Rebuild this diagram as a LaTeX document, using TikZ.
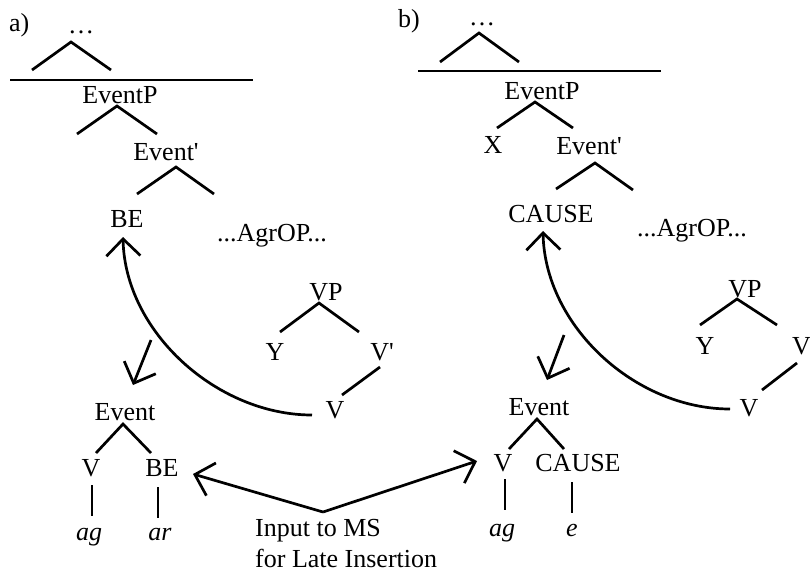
\documentclass[tikz,border=0pt]{standalone}
\usepackage{fontspec}
\setmainfont{Liberation Serif}[Ligatures=TeXOff]
\usetikzlibrary{calc,arrows.meta}
\begin{document}
\begin{tikzpicture}[x=1pt,y=-1pt,
  lbl/.style={inner sep=0pt, anchor=base, font=\fontsize{26}{30}\selectfont},
  lblw/.style={lbl, anchor=base west},
  ln/.style={line width=2.7pt},
  arr/.style={ln, -{Straight Barb[length=17pt,width=34pt]}}]
\fill[white] (0,0) rectangle (810,573);
\useasboundingbox (0,0) rectangle (810,573);

% ---------- panel a ----------
\node[lblw] (lblA) at (9,31) {a)};
\node[lbl] (dotsA) at (81,33) {…};
\node[lbl] (EPa) at (120,103) {EventP};
\node[lbl] (E1a) at (166,160) {Event'};
\node[lbl] (BEa) at (127,227) {BE};
\node[lbl] (AgrA) at (272,241) {...AgrOP...};
\node[lbl] (VPa) at (326,300) {VP};
\node[lbl] (Ya) at (275,360) {Y};
\node[lbl] (V1a) at (382,360) {V'};
\node[lbl] (Vla) at (335,418) {V};
\node[lbl] (Eva) at (125,420) {Event};
\node[lbl] (Vba) at (91,476) {V};
\node[lbl] (BEba) at (162,476) {BE};
\node[lbl] (aga) at (89,540) {\textit{ag}};
\node[lbl] (ara) at (160,540) {\textit{ar}};
\node[lblw] (in1) at (255,536) {Input to MS};
\node[lblw] (in2) at (255,567) {for Late Insertion};

\draw[ln] (10,80) -- (253,80);
\draw[ln] ($(dotsA.base)+(-49,37)$) -- ($(dotsA.base)+(-10,9)$) -- ($(dotsA.base)+(30,37)$);
\draw[ln] ($(EPa.base)+(-43,31)$) -- ($(EPa.base)+(-3,3)$) -- ($(EPa.base)+(37,31)$);
\draw[ln] ($(E1a.base)+(-29,34)$) -- ($(E1a.base)+(10,7)$) -- ($(E1a.base)+(48,34)$);
\draw[ln] ($(VPa.base)+(-46,32)$) -- ($(VPa.base)+(-7,3)$) -- ($(VPa.base)+(33,32)$);
\draw[ln] ($(V1a.base)+(-2,7)$) -- ($(Vla.base)+(7,-23)$);
\draw[arr] ($(Vla.base)+(-23,-3)$) .. controls ($(Vla.base)+(-118,-3)$) and ($(BEa.base)+(-2,105)$) .. ($(BEa.base)+(-4,10)$);
\draw[arr] ($(Eva.base)+(26,-80)$) -- ($(Eva.base)+(8,-35)$);
\draw[ln] ($(Eva.base)+(-29,33)$) -- ($(Eva.base)+(-2,4)$) -- ($(Eva.base)+(26,33)$);
\draw[ln] ($(Vba.base)+(1,9)$) -- ($(aga.base)+(3,-24)$);
\draw[ln] ($(BEba.base)+(-4,11)$) -- ($(ara.base)+(-2,-22)$);
\draw[arr] ($(in1.base west)+(68,-24)$) -- ($(BEba.base)+(31,-2)$);

% ---------- panel b ----------
\node[lblw] (lblB) at (398,27) {b)};
\node[lbl] (dotsB) at (482,25) {…};
\node[lbl] (EPb) at (542,99) {EventP};
\node[lbl] (Xb) at (493,153) {X};
\node[lbl] (E1b) at (589,154) {Event'};
\node[lbl] (CAb) at (551,222) {CAUSE};
\node[lbl] (AgrB) at (692,236) {...AgrOP...};
\node[lbl] (VPb) at (745,297) {VP};
\node[lbl] (Yb) at (705,354) {Y};
\node[lblw] (V1b) at (792,354) {V};
\node[lbl] (Vlb) at (749,416) {V};
\node[lbl] (Evb) at (539,415) {Event};
\node[lbl] (Vbb) at (503,471) {V};
\node[lbl] (CAbb) at (578,471) {CAUSE};
\node[lbl] (agb) at (502,536) {\textit{ag}};
\node[lbl] (eb) at (572,536) {\textit{e}};

\draw[ln] (418,71) -- (661,71);
\draw[ln] ($(dotsB.base)+(-42,37)$) -- ($(dotsB.base)+(-3,8)$) -- ($(dotsB.base)+(37,37)$);
\draw[ln] ($(EPb.base)+(-45,29)$) -- ($(EPb.base)+(-7,3)$) -- ($(EPb.base)+(31,29)$);
\draw[ln] ($(E1b.base)+(-33,35)$) -- ($(E1b.base)+(6,9)$) -- ($(E1b.base)+(44,36)$);
\draw[ln] ($(VPb.base)+(-45,28)$) -- ($(VPb.base)+(-8,2)$) -- ($(VPb.base)+(32,28)$);
\draw[ln] ($(V1b.base west)+(5,9)$) -- ($(Vlb.base)+(13,-26)$);
\draw[arr] ($(Vlb.base)+(-19,-7)$) .. controls ($(Vlb.base)+(-114,-7)$) and ($(CAb.base)+(-6,104)$) .. ($(CAb.base)+(-8,9)$);
\draw[arr] ($(Evb.base)+(25,-80)$) -- ($(Evb.base)+(8,-35)$);
\draw[ln] ($(Evb.base)+(-30,34)$) -- ($(Evb.base)+(-2,4)$) -- ($(Evb.base)+(25,34)$);
\draw[ln] ($(Vbb.base)+(2,8)$) -- ($(agb.base)+(3,-26)$);
\draw[ln] ($(CAbb.base)+(-6,11)$) -- ($(eb.base)+(0,-23)$);
\draw[arr] ($(in1.base west)+(68,-24)$) -- ($(Vbb.base)+(-26,-10)$);
\end{tikzpicture}
\end{document}
